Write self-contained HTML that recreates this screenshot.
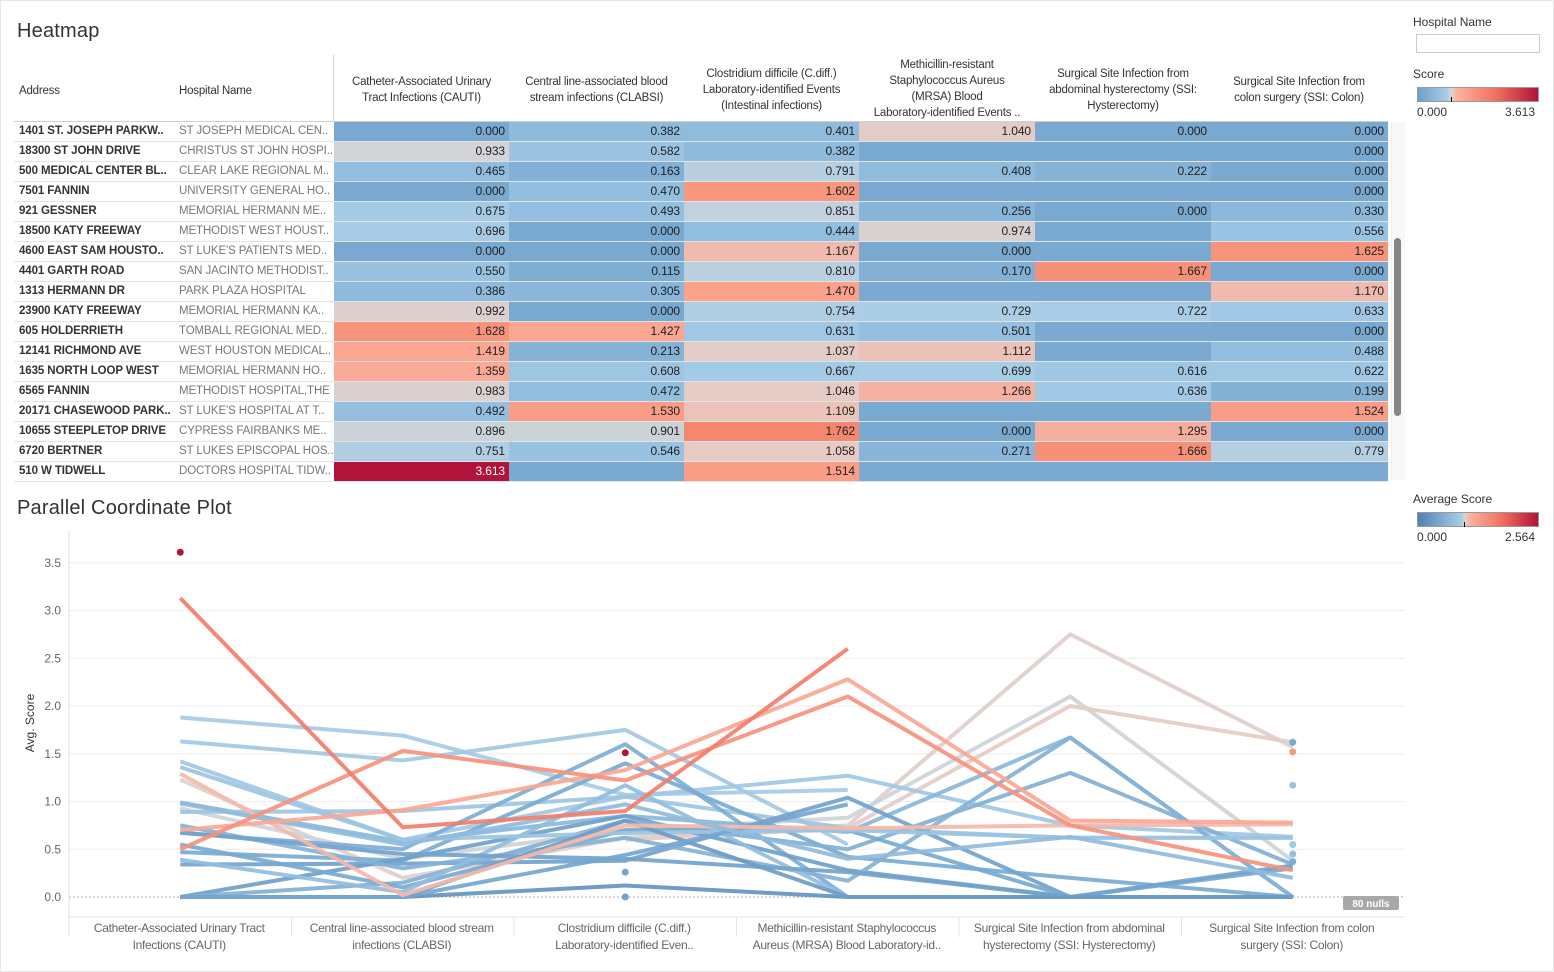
<!DOCTYPE html>
<html><head><meta charset="utf-8">
<style>
*{box-sizing:border-box;margin:0;padding:0}
body{width:1554px;height:972px;background:#fff;font-family:"Liberation Sans",sans-serif;color:#333;position:relative;overflow:hidden}
.abs{position:absolute}
.title{font-size:20px;color:#333;letter-spacing:0.2px}
.hdr{position:absolute;font-size:11.5px;color:#333;text-align:center;line-height:16px;letter-spacing:-0.2px}
.row{position:absolute;left:14px;width:1374px;height:20px;border-bottom:1px solid #e3e3e3}
.cell{position:absolute;top:0;height:19px;font-size:12px;line-height:19px;letter-spacing:-0.1px}
.val{text-align:right;padding-right:4px;color:#222}
.leg{font-size:12px;color:#333}
</style></head><body>
<div class="abs" style="left:0;top:0;width:1554px;height:972px;border:1px solid #e6e6e6"></div>

<div class="abs title" style="left:17px;top:20px">Heatmap</div>
<div class="abs" style="left:333px;top:55px;width:1px;height:67px;background:#d0d0d0"></div>
<div class="hdr" style="left:19px;top:83px;text-align:left">Address</div>
<div class="hdr" style="left:179px;top:83px;text-align:left">Hospital Name</div>
<div class="hdr" style="left:334px;top:74px;width:175px">Catheter-Associated Urinary<br>Tract Infections (CAUTI)</div>
<div class="hdr" style="left:509px;top:74px;width:175px">Central line-associated blood<br>stream infections (CLABSI)</div>
<div class="hdr" style="left:684px;top:66px;width:175px">Clostridium difficile (C.diff.)<br>Laboratory-identified Events<br>(Intestinal infections)</div>
<div class="hdr" style="left:859px;top:57px;width:176px">Methicillin-resistant<br>Staphylococcus Aureus<br>(MRSA) Blood<br>Laboratory-identified Events ..</div>
<div class="hdr" style="left:1035px;top:66px;width:176px">Surgical Site Infection from<br>abdominal hysterectomy (SSI:<br>Hysterectomy)</div>
<div class="hdr" style="left:1211px;top:74px;width:176px">Surgical Site Infection from<br>colon surgery (SSI: Colon)</div>
<div class="abs" style="left:14px;top:121px;width:1374px;height:1px;background:#d0d0d0"></div>
<div id="rows"></div>
<div class="abs" style="left:1391px;top:122px;width:14px;height:358px;background:#f8f8f8;border-left:1px solid #eee"></div>
<div class="abs" style="left:1394px;top:238px;width:7px;height:178px;background:#858585;border-radius:4px"></div>

<div class="abs leg" style="left:1413px;top:15px">Hospital Name</div>
<div class="abs" style="left:1416px;top:34px;width:124px;height:19px;border:1px solid #ccc;background:#fff"></div>
<div class="abs leg" style="left:1413px;top:67px">Score</div>
<div class="abs" style="left:1417px;top:87px;width:122px;height:15px;border:1px solid #999;background:linear-gradient(to right,#6f9fcb 0%,#a8cde6 24%,#d9d6d3 28%,#fbb3a0 32%,#f0705e 65%,#b0143a 100%)"></div>
<div class="abs" style="left:1451px;top:97px;width:1px;height:5px;background:#000"></div>
<div class="abs leg" style="left:1417px;top:105px">0.000</div>
<div class="abs leg" style="left:1505px;top:105px">3.613</div>
<div class="abs leg" style="left:1413px;top:492px">Average Score</div>
<div class="abs" style="left:1417px;top:512px;width:122px;height:15px;border:1px solid #999;background:linear-gradient(to right,#4f81b4 0%,#a8cde6 36%,#d9d6d3 39%,#fbb3a0 43%,#f0705e 70%,#b0143a 100%)"></div>
<div class="abs" style="left:1464px;top:522px;width:1px;height:5px;background:#000"></div>
<div class="abs leg" style="left:1417px;top:530px">0.000</div>
<div class="abs leg" style="left:1505px;top:530px">2.564</div>

<div class="abs title" style="left:17px;top:497px">Parallel Coordinate Plot</div>
<svg class="abs" style="left:0;top:530px" width="1420" height="442" id="pcp"></svg>

<script>
// ---------- heatmap data ----------
const addresses=["1401 ST. JOSEPH PARKW..","18300 ST JOHN DRIVE","500 MEDICAL CENTER BL..","7501 FANNIN","921 GESSNER","18500 KATY FREEWAY","4600 EAST SAM HOUSTO..","4401 GARTH ROAD","1313 HERMANN DR","23900 KATY FREEWAY","605 HOLDERRIETH","12141 RICHMOND AVE","1635  NORTH LOOP WEST","6565 FANNIN","20171 CHASEWOOD PARK..","10655 STEEPLETOP DRIVE","6720 BERTNER","510 W TIDWELL"];
const hospitals=["ST JOSEPH MEDICAL CEN..","CHRISTUS ST JOHN HOSPI..","CLEAR LAKE REGIONAL M..","UNIVERSITY GENERAL HO..","MEMORIAL HERMANN ME..","METHODIST WEST HOUST..","ST LUKE'S PATIENTS MED..","SAN JACINTO METHODIST..","PARK PLAZA HOSPITAL","MEMORIAL HERMANN KA..","TOMBALL REGIONAL MED..","WEST HOUSTON MEDICAL..","MEMORIAL HERMANN HO..","METHODIST HOSPITAL,THE","ST LUKE'S HOSPITAL AT T..","CYPRESS FAIRBANKS ME..","ST LUKES EPISCOPAL HOS..","DOCTORS HOSPITAL TIDW.."];
const cauti=[0.000,0.933,0.465,0.000,0.675,0.696,0.000,0.550,0.386,0.992,1.628,1.419,1.359,0.983,0.492,0.896,0.751,3.613];
const clabsi=[0.382,0.582,0.163,0.470,0.493,0.000,0.000,0.115,0.305,0.000,1.427,0.213,0.608,0.472,1.530,0.901,0.546,null];
const cdiff=[0.401,0.382,0.791,1.602,0.851,0.444,1.167,0.810,1.470,0.754,0.631,1.037,0.667,1.046,1.109,1.762,1.058,1.514];
const mrsa=[1.040,null,0.408,null,0.256,0.974,0.000,0.170,null,0.729,0.501,1.112,0.699,1.266,null,0.000,0.271,null];
const ssiHyst=[0.000,null,0.222,null,0.000,null,null,1.667,null,0.722,null,null,0.616,0.636,null,1.295,1.666,null];
const ssiColon=[0.000,0.000,0.000,0.000,0.330,0.556,1.625,0.000,1.170,0.633,0.000,0.488,0.622,0.199,1.524,0.000,0.779,null];
const heatCols=[cauti,clabsi,cdiff,mrsa,ssiHyst,ssiColon];
const heatColNames=['cauti','clabsi','cdiff','mrsa','ssi-hysterectomy','ssi-colon'];

function hex(c){return [parseInt(c.slice(1,3),16),parseInt(c.slice(3,5),16),parseInt(c.slice(5,7),16)];}
function ramp(stops,v){
  if(v<=stops[0][0])return stops[0][1];
  for(let i=1;i<stops.length;i++){if(v<=stops[i][0]){const a=stops[i-1],b=stops[i];const t=(v-a[0])/(b[0]-a[0]);const ca=hex(a[1]),cb=hex(b[1]);return 'rgb('+ca.map((x,k)=>Math.round(x+(cb[k]-x)*t)).join(',')+')';}}
  return stops[stops.length-1][1];
}
const heatStops=[[0,'#79a9d1'],[0.5,'#94bfe0'],[0.72,'#a9cde6'],[0.93,'#d1d4d7'],[1.05,'#e6cbc4'],[1.2,'#f3b6a8'],[1.45,'#fca48e'],[1.8,'#f4846a'],[3.613,'#b0143a']];
const avgStops=[[0,'#5f8fbf'],[0.4,'#78a9d1'],[0.8,'#a8cde6'],[0.95,'#d4d5d7'],[1.05,'#e4cdc7'],[1.2,'#f6b5a6'],[1.5,'#fba48e'],[1.9,'#f0705e'],[2.564,'#b0143a']];

const rowsEl=document.getElementById('rows');
const colX=[320,495,670,845,1021,1197];const colW=[175,175,175,176,176,177];
for(let r=0;r<addresses.length;r++){
  const row=document.createElement('div');
  row.className='row';row.style.top=(122+r*20)+'px';
  
  
  const a=document.createElement('div');a.className='cell';a.style.left='5px';a.style.fontWeight='bold';a.style.color='#333';a.style.fontSize='11.5px';a.textContent=addresses[r];
  
  
  row.appendChild(a);
  const h=document.createElement('div');h.className='cell';h.style.left='165px';h.style.color='#777';h.style.fontSize='11.5px';h.style.width='154px';h.style.overflow='hidden';h.style.whiteSpace='nowrap';h.textContent=hospitals[r];
  
  
  row.appendChild(h);
  for(let c=0;c<6;c++){
    const v=heatCols[c][r];
    const d=document.createElement('div');d.className='cell val';
    d.style.left=colX[c]+'px';d.style.width=colW[c]+'px';
    d.style.background=v===null?'#7aa9d1':ramp(heatStops,v);
    if(v!==null){d.textContent=v.toFixed(3);if(v>2.5)d.style.color='#fff';}
    
    
    row.appendChild(d);
  }
  rowsEl.appendChild(row);
}

// ---------- parallel coordinate data ----------
const pcpCategories=[["Catheter-Associated Urinary Tract","Infections (CAUTI)"],["Central line-associated blood stream","infections (CLABSI)"],["Clostridium difficile (C.diff.)","Laboratory-identified Even.."],["Methicillin-resistant Staphylococcus","Aureus (MRSA) Blood Laboratory-id.."],["Surgical Site Infection from abdominal","hysterectomy (SSI: Hysterectomy)"],["Surgical Site Infection from colon","surgery (SSI: Colon)"]];
const yTicks=[0,0.5,1.0,1.5,2.0,2.5,3.0,3.5];
const s01=[3.13,0.73,0.90,2.60,null,null];
const s02=[0.70,0.91,1.33,2.28,0.80,0.78];
const s03=[0.50,1.53,1.22,2.10,0.75,0.28];
const s04=[1.23,0.20,0.62,0.75,2.75,1.57];
const s05=[0.93,0.40,0.70,0.83,2.10,0.38];
const s06=[null,null,0.60,0.72,2.00,1.62];
const s07=[1.88,1.69,1.07,1.12,null,null];
const s08=[1.63,1.43,1.75,0.55,null,null];
const s09=[1.42,0.60,1.05,1.27,0.75,0.63];
const s10=[0.99,0.58,0.85,0.68,1.67,0.00];
const s11=[0.89,0.90,1.05,0.72,0.62,0.62];
const s12=[0.67,0.50,1.60,0.00,0.00,0.00];
const s13=[0.47,0.38,1.40,0.42,0.20,0.00];
const s14=[0.34,0.35,0.38,1.04,0.00,0.00];
const s15=[0.00,0.40,0.85,0.28,0.00,0.00];
const s16=[0.00,0.00,0.12,0.00,0.00,0.00];
const s17=[0.00,0.15,0.80,0.50,1.30,0.34];
const s18=[0.55,0.10,0.70,0.70,0.00,0.30];
const s19=[0.75,0.30,0.62,0.17,1.67,0.00];
const s20=[0.39,0.05,1.17,0.00,null,1.62];
const s21=[0.68,0.45,0.40,0.26,0.00,0.33];
const s22=[1.36,0.60,0.67,0.70,0.62,0.62];
const s23=[0.00,0.00,0.80,0.00,0.00,0.00];
const s24=[0.00,0.00,0.44,0.97,null,0.56];
const s25=[1.29,0.02,0.75,0.72,0.75,0.76];
const s26=[0.98,0.55,0.97,0.40,0.63,0.20];
const pcpSeries=[s04,s05,s06,s07,s08,s09,s10,s11,s12,s13,s14,s15,s16,s17,s18,s19,s20,s21,s22,s23,s24,s25,s26,s02,s03,s01];
// average score per hospital (colour encoding), same order as pcpSeries
const pcpAvgScore=[1.02,0.93,1.06,0.78,0.76,0.74,0.55,0.72,0.45,0.42,0.30,0.25,0.08,0.48,0.40,0.50,0.62,0.30,0.70,0.20,0.35,1.18,0.60,1.45,1.65,1.80];
const pcpDotCats=[0,2,2,2,5,5,5,5,5,5];
const pcpDotVals=[3.61,1.51,0.26,0.00,1.62,1.52,1.17,0.55,0.45,0.37];
const pcpDotAvg=[2.56,2.56,0.35,0.30,0.40,1.6,0.70,0.75,0.65,0.45];

const NS='http://www.w3.org/2000/svg';
const svg=document.getElementById('pcp');
const Y0=367,PXU=95.5;
function yS(v){return Y0-v*PXU;}
const bandL=69,bandW=222.5;
function xS(i){return bandL+bandW*i+bandW/2;}
function el(t,attrs){const e=document.createElementNS(NS,t);for(const k in attrs)e.setAttribute(k,attrs[k]);return e;}

for(const t of yTicks){
  const g=el('line',{x1:69,x2:1405,y1:yS(t),y2:yS(t),stroke:t===0?'#aaa':'#eeeeee','stroke-width':1});
  if(t===0)g.setAttribute('stroke-dasharray','2,2');
  
  
  svg.appendChild(g);
  const tx=el('text',{x:61,y:yS(t)+4,'text-anchor':'end','font-size':12,fill:'#666','font-family':'Liberation Sans, sans-serif'});
  tx.textContent=t.toFixed(1);
  
  
  svg.appendChild(tx);
}
const ax=el('line',{x1:69,x2:69,y1:0,y2:405,stroke:'#e0e0e0'});


svg.appendChild(ax);
const xa=el('line',{x1:69,x2:1405,y1:387,y2:387,stroke:'#e6e6e6'});


svg.appendChild(xa);
const yt=el('text',{x:0,y:0,transform:'translate(34,193) rotate(-90)','text-anchor':'middle','font-size':12,fill:'#333','font-family':'Liberation Sans, sans-serif'});
yt.textContent='Avg. Score';


svg.appendChild(yt);

for(let i=0;i<pcpCategories.length;i++){
  if(i>0){const d=el('line',{x1:bandL+bandW*i,x2:bandL+bandW*i,y1:387,y2:407,stroke:'#e6e6e6'});
  
  
  svg.appendChild(d);}
  for(let k=0;k<2;k++){
    const tx=el('text',{x:xS(i)-1,y:402+k*17,'text-anchor':'middle','font-size':12,fill:'#666','letter-spacing':'-0.3','font-family':'Liberation Sans, sans-serif'});
    tx.textContent=pcpCategories[i][k];
    
    
    svg.appendChild(tx);
  }
}

for(let j=0;j<pcpSeries.length;j++){
  const s=pcpSeries[j];
  const col=ramp(avgStops,pcpAvgScore[j]);
  let d='',pen=false;
  for(let i=0;i<6;i++){
    if(s[i]===null){pen=false;continue;}
    d+=(pen?'L':'M')+xS(i)+','+yS(s[i]);pen=true;
  }
  const p=el('path',{d:d,fill:'none',stroke:col,'stroke-width':4,'stroke-opacity':0.92,'stroke-linejoin':'round'});
  
  
  svg.appendChild(p);
}
for(let j=0;j<pcpDotVals.length;j++){
  const c=el('circle',{cx:xS(pcpDotCats[j]),cy:yS(pcpDotVals[j]),r:3.5,fill:ramp(avgStops,pcpDotAvg[j])});
  
  
  svg.appendChild(c);
}
const nb=el('rect',{x:1343,y:366,width:56,height:14,rx:2,fill:'#a8a8a8'});


svg.appendChild(nb);
const nt=el('text',{x:1371,y:377,'text-anchor':'middle','font-size':10,'font-weight':'bold',fill:'#fff','font-family':'Liberation Sans, sans-serif'});
nt.textContent='80 nulls';


svg.appendChild(nt);
</script>
</body></html>
